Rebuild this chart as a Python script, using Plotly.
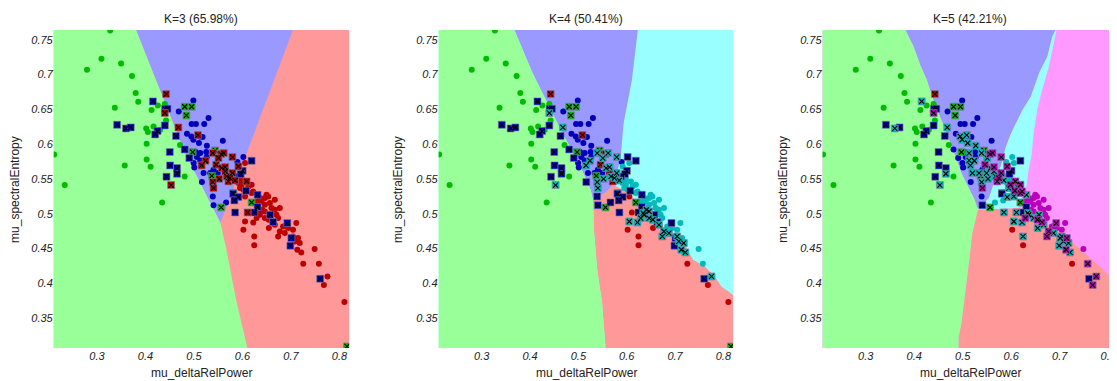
import plotly.graph_objects as go

# ---------------- axes / text ----------------
X_RANGE = [0.211, 0.82]
X_RANGE_LAST = [0.211, 0.8057]          # third panel is cut by the page edge
Y_RANGE = [0.307, 0.764]
X_TICKS = [0.3, 0.4, 0.5, 0.6, 0.7, 0.8]
X_TICK_TEXT = ["0.3", "0.4", "0.5", "0.6", "0.7", "0.8"]
Y_TICKS = [0.35, 0.4, 0.45, 0.5, 0.55, 0.6, 0.65, 0.7, 0.75]
Y_TICK_TEXT = ["0.35", "0.4", "0.45", "0.5", "0.55", "0.6", "0.65", "0.7", "0.75"]
TITLES = ["K=3 (65.98%)", "K=4 (50.41%)", "K=5 (42.21%)"]
X_LABEL = "mu_deltaRelPower"
Y_LABEL = "mu_spectralEntropy"

# ---------------- points (shared positions, per-K labels; upper case = marked) ----------------
A_X = [0.3273, 0.3094, 0.2795, 0.3498, 0.3723, 0.3799, 0.3852, 0.3369, 0.4127, 0.4256, 0.4400, 0.4016, 0.4051,
       0.4168, 0.4303, 0.4426, 0.4025, 0.4713, 0.2119, 0.3574, 0.4025, 0.4107, 0.4809, 0.2336, 0.4344]
A_Y = [0.7634, 0.7227, 0.7069, 0.7159, 0.6978, 0.6734, 0.6609, 0.6523, 0.6490, 0.6556, 0.6576, 0.6225, 0.6173,
       0.6254, 0.6207, 0.6340, 0.6005, 0.5987, 0.5852, 0.5693, 0.5780, 0.5675, 0.5535, 0.5412, 0.5162]
A_K3 = "ggggggggggggggggggggggggg"
A_K4 = "ggggggggggggggggggggggggg"
A_K5 = "ggggggggggggggggggggggggg"

B_X = [0.4810, 0.4953, 0.4844, 0.4974, 0.5439, 0.5369, 0.5814, 0.6189, 0.5562, 0.8156]
B_Y = [0.6537, 0.6537, 0.6412, 0.5886, 0.5909, 0.5545, 0.5297, 0.5162, 0.5090, 0.3092]
B_K3 = "GGGGGGGGGG"
B_K4 = "GGGGGGGGGG"
B_K5 = "GGGGGGGGGG"

C_X = [0.4154, 0.4406, 0.4455, 0.3416, 0.3600, 0.3697, 0.4250, 0.4201, 0.4400, 0.4631, 0.4810, 0.4502, 0.4906,
       0.4508, 0.4652, 0.4652, 0.4434]
C_Y = [0.6614, 0.6508, 0.6508, 0.6278, 0.6225, 0.6240, 0.6188, 0.6139, 0.6268, 0.6116, 0.5924, 0.5886, 0.5800,
       0.5694, 0.5656, 0.5574, 0.5531]
C_K3 = "BBBBBBBBBBBBBBBBB"
C_K4 = "BBBBBBBBBBBBBBBBB"
C_K5 = "CBBBCBBBBBbBbBBCB"

D_X = [0.4426, 0.4400, 0.4680, 0.5082, 0.4529, 0.5389, 0.5562, 0.5615, 0.5506, 0.5793, 0.5240, 0.5459, 0.5158,
       0.5574, 0.5644, 0.5644, 0.5793, 0.5521, 0.5389, 0.5711, 0.5404, 0.5676, 0.5746, 0.5848, 0.6107, 0.6086,
       0.5916]
D_Y = [0.6720, 0.6447, 0.6240, 0.6130, 0.5412, 0.5872, 0.5857, 0.5872, 0.5800, 0.5814, 0.5761, 0.5704, 0.5694,
       0.5656, 0.5670, 0.5607, 0.5584, 0.5502, 0.5455, 0.5464, 0.5369, 0.5535, 0.5512, 0.5478, 0.5018, 0.5464,
       0.5679]
D_K3 = "RRRRRRRRRRRRRRRRRRRRRRRRRRR"
D_K4 = "RCCRCCRCCCCRCCCRCCCRCCCCrcc"
D_K5 = "RMCCCCMMCMCMCCMCMCCMMCMCCMM"

E_X = [0.6189, 0.6004, 0.5963, 0.5808, 0.5916, 0.5834, 0.6074, 0.6312, 0.6312, 0.5849, 0.6244, 0.6572, 0.6633,
       0.6926, 0.7009, 0.6988, 0.7603]
E_Y = [0.5761, 0.5617, 0.5570, 0.5287, 0.5239, 0.5191, 0.5330, 0.5272, 0.5096, 0.5018, 0.5018, 0.4985, 0.4880,
       0.4866, 0.4650, 0.4540, 0.4065]
E_K3 = "BBBBBBBBBBBBBBBBB"
E_K4 = "BBBBBBBBBBBBBBBBB"
E_K5 = "BBBBCcMCBCBCMMCCB"

F_X = [0.4988, 0.4687, 0.5301, 0.4953, 0.5041, 0.5213, 0.4857, 0.4947, 0.4988, 0.5117, 0.5178, 0.5103, 0.5267,
       0.5595, 0.5035, 0.5131, 0.5254, 0.5062, 0.5131, 0.5267, 0.4994, 0.5008, 0.5336, 0.5404, 0.5199, 0.5492,
       0.5896, 0.6019, 0.5881, 0.5389, 0.5664, 0.5164, 0.5404]
F_Y = [0.6628, 0.6469, 0.6375, 0.6289, 0.6289, 0.6289, 0.6149, 0.6110, 0.6063, 0.6110, 0.6102, 0.6016, 0.5977,
       0.6049, 0.5886, 0.5872, 0.5886, 0.5814, 0.5765, 0.5814, 0.5728, 0.5665, 0.5584, 0.5632, 0.5584, 0.5584,
       0.5742, 0.5814, 0.5535, 0.5248, 0.5162, 0.5455, 0.5121]
F_K3 = "bbbbbbbbbbbbbbbbbbbbbbbbbbbbbbbbb"
F_K4 = "bbbbbbbbbbbbbbbbbbbbbbbbbbbBBBBBB"
F_K5 = "bbbbbbbCCbbCCbbCbbCbbbCbCCcccbcbB"

H_X = [0.5916, 0.5984, 0.6054, 0.5951, 0.6019, 0.6121, 0.6189, 0.6223, 0.6463, 0.6531, 0.6668, 0.6394, 0.6463,
       0.6566, 0.6599, 0.6668, 0.6771, 0.6463, 0.6361, 0.6291, 0.6463, 0.6541, 0.6736, 0.6668, 0.6838, 0.6941,
       0.7043, 0.6771, 0.6873, 0.7111, 0.6054, 0.6019, 0.6244, 0.6244, 0.6736, 0.7181, 0.7146, 0.6223, 0.6545,
       0.7043, 0.7131, 0.7213, 0.7488, 0.7254, 0.7576, 0.7754, 0.7679, 0.8103, 0.6408, 0.6340, 0.6701, 0.7078,
       0.5984, 0.6189, 0.6361, 0.6054, 0.6291, 0.6496]
H_Y = [0.5440, 0.5416, 0.5728, 0.5369, 0.5344, 0.5392, 0.5416, 0.5320, 0.5225, 0.5248, 0.5201, 0.5176, 0.5129,
       0.5153, 0.5081, 0.5057, 0.5081, 0.5032, 0.4985, 0.4937, 0.4937, 0.4913, 0.4937, 0.4841, 0.4817, 0.4794,
       0.4769, 0.4745, 0.4722, 0.4866, 0.4888, 0.4769, 0.4673, 0.4547, 0.4673, 0.4578, 0.4650, 0.4874, 0.4794,
       0.4673, 0.4482, 0.4443, 0.4492, 0.4281, 0.4281, 0.4098, 0.3975, 0.3730, 0.5057, 0.5009, 0.4985, 0.4601,
       0.5488, 0.5297, 0.5225, 0.5248, 0.5176, 0.5272]
H_K3 = "rrrrrrrrrrrrrrrrrrrrrrrrrrrrrrrrrrrrrrrrrrrrrrrrrrrrrrrrrr"
H_K4 = "cccccccccccccccccCCCCCcCcccCCcCrrrCCcCrCCCcrcCrrCCcCcccrcc"
H_K5 = "cMcCcCMMmmmmmmmmmmCMCMmCmmmMCmCrCrMCMCCCMCmrMMMrmCmCcMmCmm"

GROUPS = [
    (A_X, A_Y, A_K3, A_K4, A_K5),
    (B_X, B_Y, B_K3, B_K4, B_K5),
    (C_X, C_Y, C_K3, C_K4, C_K5),
    (D_X, D_Y, D_K3, D_K4, D_K5),
    (E_X, E_Y, E_K3, E_K4, E_K5),
    (F_X, F_Y, F_K3, F_K4, F_K5),
    (H_X, H_Y, H_K3, H_K4, H_K5),
]

# ---------------- decision-region boundaries ----------------
X_LO, X_HI, Y_LO, Y_HI = 0.15, 0.90, 0.28, 0.80

K3_GB_X = [0.3805, 0.4379, 0.4789, 0.5199, 0.5547]
K3_GB_Y = [0.7644, 0.6638, 0.5919, 0.5344, 0.4870]
K3_GR_X = [0.5547, 0.5670, 0.5869, 0.6100]
K3_GR_Y = [0.4870, 0.4482, 0.3763, 0.3073]
K3_BR_X = [0.7043, 0.5732, 0.5547]
K3_BR_Y = [0.7644, 0.5200, 0.4870]

K4_G_X = [0.3674, 0.4051, 0.4429, 0.4704, 0.4979, 0.5254, 0.5301, 0.5321, 0.5389, 0.5491, 0.5561]
K4_G_Y = [0.7644, 0.7021, 0.6494, 0.6110, 0.5775, 0.5344, 0.5200, 0.4769, 0.4194, 0.3716, 0.3073]
K4_BC_X = [0.6231, 0.6108, 0.5937, 0.5870, 0.5758, 0.5726]
K4_BC_Y = [0.7644, 0.6925, 0.6302, 0.5775, 0.5512, 0.5416]
K4_BR_X = [0.5726, 0.5560, 0.5301]
K4_BR_Y = [0.5416, 0.5300, 0.5200]
K4_RC_X = [0.5726, 0.6034, 0.6307, 0.6580, 0.6855, 0.7197, 0.7376, 0.7617, 0.7823, 0.7958, 0.8199, 0.8600]
K4_RC_Y = [0.5416, 0.5297, 0.5104, 0.4937, 0.4745, 0.4554, 0.4338, 0.4242, 0.4098, 0.3954, 0.3835, 0.3700]

K5_G_X = [0.3816, 0.3986, 0.4122, 0.4259, 0.4394, 0.4531, 0.4667, 0.4802, 0.4973, 0.5143, 0.5245, 0.5312,
          0.5198, 0.5143, 0.5096, 0.5041, 0.4973, 0.4918, 0.4904]
K5_G_Y = [0.7644, 0.7404, 0.7141, 0.6925, 0.6638, 0.6398, 0.6159, 0.5919, 0.5584, 0.5344, 0.5200, 0.5057,
          0.4722, 0.4386, 0.4098, 0.3763, 0.3428, 0.3236, 0.3073]
K5_BC_X = [0.6912, 0.6843, 0.6741, 0.6571, 0.6402, 0.6231, 0.6061, 0.5980, 0.5878, 0.5810, 0.5741, 0.5673,
           0.5606, 0.5537, 0.5402, 0.5300]
K5_BC_Y = [0.7644, 0.7547, 0.7260, 0.7021, 0.6685, 0.6494, 0.6254, 0.6135, 0.5944, 0.5751, 0.5607, 0.5512,
           0.5369, 0.5225, 0.5129, 0.5081]
K5_CM_X = [0.6149, 0.6251, 0.6320, 0.6353, 0.6422, 0.6460, 0.6537, 0.6639, 0.6776, 0.6843, 0.6935]
K5_CM_Y = [0.5081, 0.5225, 0.5416, 0.5607, 0.5847, 0.6150, 0.6494, 0.6781, 0.7116, 0.7356, 0.7644]
K5_MR_X = [0.6149, 0.6422, 0.6694, 0.6965, 0.7239, 0.7443, 0.7660, 0.7863, 0.8035, 0.8430]
K5_MR_Y = [0.5081, 0.4985, 0.4865, 0.4745, 0.4601, 0.4482, 0.4338, 0.4219, 0.4098, 0.3850]

REGION_COLORS = {"g": "#99FF99", "b": "#9999FF", "r": "#FF9999", "c": "#99FFFF", "m": "#FF99FF"}
POINT_COLORS = {"g": "#00BB00", "b": "#0000BB", "r": "#BB0000", "c": "#00BBBB", "m": "#BB00BB"}


def rev(a):
    return list(reversed(a))


RECT_X = [X_LO, X_HI, X_HI, X_LO]
RECT_Y = [Y_LO, Y_LO, Y_HI, Y_HI]

regions_k3 = [
    ("r", RECT_X, RECT_Y),
    ("b", [K3_GB_X[0], K3_BR_X[0]] + K3_BR_X + rev(K3_GB_X),
          [Y_HI, Y_HI] + K3_BR_Y + rev(K3_GB_Y)),
    ("g", [X_LO, K3_GB_X[0]] + K3_GB_X + K3_GR_X[1:] + [K3_GR_X[-1], X_LO],
          [Y_HI, Y_HI] + K3_GB_Y + K3_GR_Y[1:] + [Y_LO, Y_LO]),
]

regions_k4 = [
    ("c", RECT_X, RECT_Y),
    ("r", K4_BR_X[::-1] + K4_RC_X[1:] + [X_HI, X_HI, K4_G_X[-1]] + rev(K4_G_X[6:]),
          K4_BR_Y[::-1] + K4_RC_Y[1:] + [K4_RC_Y[-1], Y_LO, Y_LO] + rev(K4_G_Y[6:])),
    ("b", [K4_G_X[0], K4_BC_X[0]] + K4_BC_X + K4_BR_X[1:] + rev(K4_G_X[:7]),
          [Y_HI, Y_HI] + K4_BC_Y + K4_BR_Y[1:] + rev(K4_G_Y[:7])),
    ("g", [X_LO, K4_G_X[0]] + K4_G_X + [K4_G_X[-1], X_LO],
          [Y_HI, Y_HI] + K4_G_Y + [Y_LO, Y_LO]),
]

regions_k5 = [
    ("m", RECT_X, RECT_Y),
    ("r", [K5_G_X[11]] + K5_MR_X + [X_HI, X_HI, K5_G_X[-1]] + rev(K5_G_X[11:]),
          [K5_G_Y[11]] + K5_MR_Y + [K5_MR_Y[-1], Y_LO, Y_LO] + rev(K5_G_Y[11:])),
    ("c", [K5_BC_X[-1], K5_G_X[11]] + K5_CM_X + [K5_CM_X[-1], K5_BC_X[0]] + K5_BC_X,
          [K5_BC_Y[-1], K5_G_Y[11]] + K5_CM_Y + [Y_HI, Y_HI] + K5_BC_Y),
    ("b", [K5_G_X[0], K5_BC_X[0]] + K5_BC_X + rev(K5_G_X[:12]),
          [Y_HI, Y_HI] + K5_BC_Y + rev(K5_G_Y[:12])),
    ("g", [X_LO, K5_G_X[0]] + K5_G_X + [K5_G_X[-1], X_LO],
          [Y_HI, Y_HI] + K5_G_Y + [Y_LO, Y_LO]),
]

PANEL_REGIONS = [regions_k3, regions_k4, regions_k5]

# ---------------- figure (page body adds an 8px offset) ----------------
W, H = 1109, 373
PANEL_W = 297
PLOT_LEFT = [46, 433, 819]
PLOT_RIGHT = [343, 729, 1109]
PLOT_TOP, PLOT_BOTTOM = 22, 340
TITLE_Y = 11
XTITLE_Y = 365
YTITLE_X = [7, 392, 779]

fig = go.Figure()

for p in range(3):
    xa = "x" if p == 0 else f"x{p + 1}"
    ya = "y" if p == 0 else f"y{p + 1}"
    for key, rx, ry in PANEL_REGIONS[p]:
        fig.add_trace(go.Scatter(x=rx, y=ry, xaxis=xa, yaxis=ya, mode="lines", fill="toself",
                                 fillcolor=REGION_COLORS[key], line=dict(width=0, color=REGION_COLORS[key]),
                                 hoverinfo="skip", showlegend=False))
    xs, ys, labs = [], [], []
    for g in GROUPS:
        xs += g[0]
        ys += g[1]
        labs += list(g[2 + p])
    for key in "gbrcm":
        px = [x for x, l in zip(xs, labs) if l == key]
        py = [y for y, l in zip(ys, labs) if l == key]
        if px:
            fig.add_trace(go.Scatter(x=px, y=py, xaxis=xa, yaxis=ya, mode="markers",
                                     marker=dict(size=6, color=POINT_COLORS[key], line=dict(width=0)),
                                     hoverinfo="skip", showlegend=False))
    for key in "gbrcm":
        px = [x for x, l in zip(xs, labs) if l == key.upper()]
        py = [y for y, l in zip(ys, labs) if l == key.upper()]
        if px:
            fig.add_trace(go.Scatter(x=px, y=py, xaxis=xa, yaxis=ya, mode="markers",
                                     marker=dict(symbol="square", size=7, color=POINT_COLORS[key],
                                                 line=dict(width=1, color="rgba(120,120,150,0.6)")),
                                     hoverinfo="skip", showlegend=False))
            fig.add_trace(go.Scatter(x=px, y=py, xaxis=xa, yaxis=ya, mode="markers",
                                     marker=dict(symbol="x-thin", size=5, line=dict(width=1.1, color="black")),
                                     hoverinfo="skip", showlegend=False))

tick_font = dict(family="Liberation Sans, Arial, sans-serif", size=11, color="#222222", style="italic")
layout = dict(width=W, height=H, margin=dict(l=0, r=0, t=0, b=0), paper_bgcolor="white",
              plot_bgcolor="white", showlegend=False,
              font=dict(family="Liberation Sans, Arial, sans-serif", size=12, color="#222222"))
ydom = [(H - PLOT_BOTTOM) / H, (H - PLOT_TOP) / H]
annotations = []
for p in range(3):
    sfx = "" if p == 0 else str(p + 1)
    xr = X_RANGE_LAST if p == 2 else X_RANGE
    layout["xaxis" + sfx] = dict(domain=[PLOT_LEFT[p] / W, PLOT_RIGHT[p] / W], range=xr, anchor="y" + sfx,
                                 showgrid=False, zeroline=False, showline=False, ticks="",
                                 tickmode="array", tickvals=X_TICKS, ticktext=X_TICK_TEXT, tickfont=tick_font,
                                 ticklabeloverflow="allow", fixedrange=True)
    layout["yaxis" + sfx] = dict(domain=ydom, range=Y_RANGE, anchor="x" + sfx,
                                 showgrid=False, zeroline=False, showline=False, ticks="",
                                 tickmode="array", tickvals=Y_TICKS, ticktext=Y_TICK_TEXT, tickfont=tick_font,
                                 ticklabeloverflow="allow", fixedrange=True)
    cx = (PLOT_LEFT[p] + PANEL_W / 2) / W
    annotations.append(dict(text=TITLES[p], xref="paper", yref="paper", x=cx, y=1 - TITLE_Y / H,
                            xanchor="center", yanchor="middle", showarrow=False, font=dict(size=12)))
    annotations.append(dict(text=X_LABEL, xref="paper", yref="paper", x=cx, y=1 - XTITLE_Y / H,
                            xanchor="center", yanchor="middle", showarrow=False, font=dict(size=12)))
    annotations.append(dict(text=Y_LABEL, xref="paper", yref="paper", x=YTITLE_X[p] / W,
                            y=1 - ((PLOT_TOP + PLOT_BOTTOM) / 2) / H, textangle=-90,
                            xanchor="center", yanchor="middle", showarrow=False, font=dict(size=12)))
layout["annotations"] = annotations
fig.update_layout(**layout)

fig.write_html("out.html")
